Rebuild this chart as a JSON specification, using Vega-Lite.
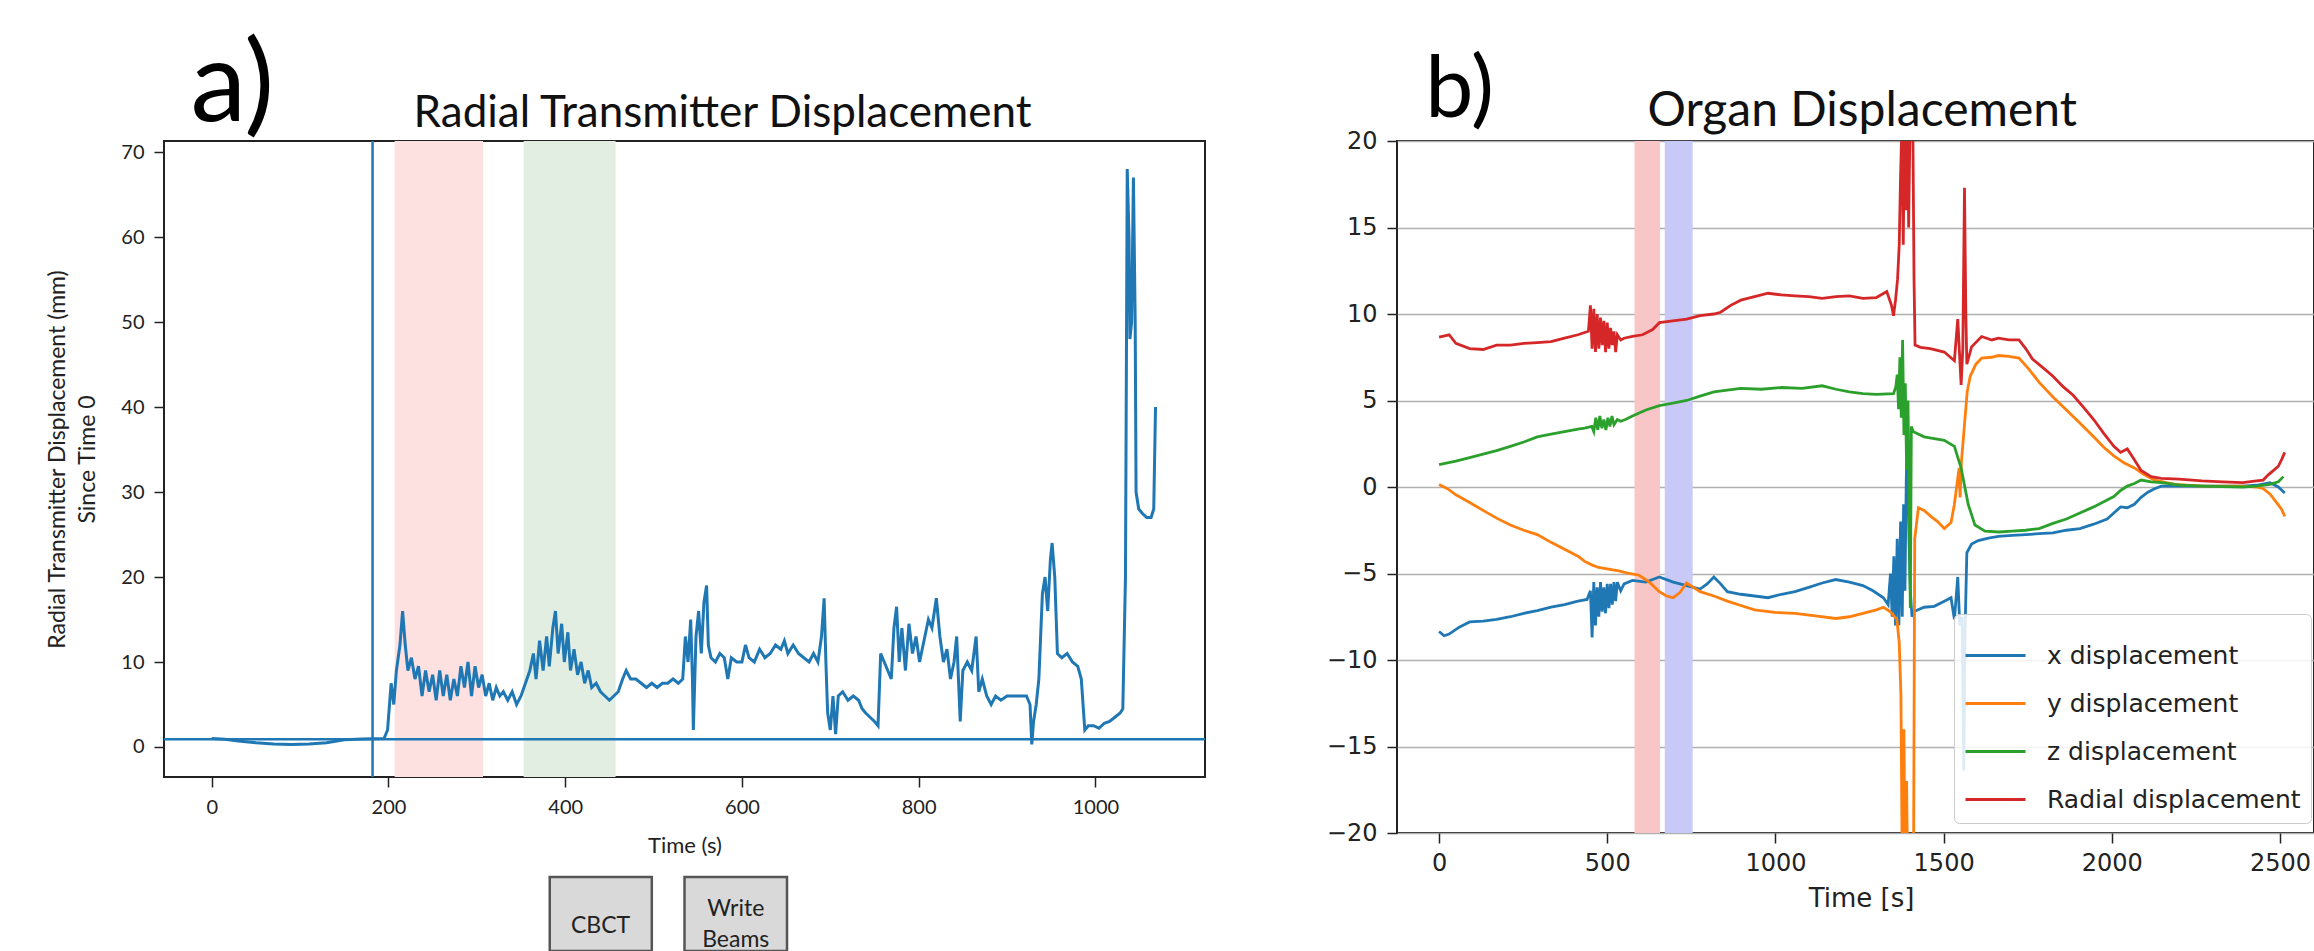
{
  "$schema": "https://vega.github.io/schema/vega-lite/v6.json",
  "background": "white",
  "padding": {"left": 45, "top": 30, "right": 0, "bottom": 0},
  "bounds": "flush",
  "spacing": 192,
  "resolve": {"scale": {"fill": "independent", "color": "independent"}},
  "config": {
    "view": {"stroke": "#222", "strokeWidth": 2},
    "axis": {"domain": false, "grid": false, "tickColor": "#222", "tickWidth": 1.5, "tickSize": 10, "labelColor": "#222", "titleColor": "#222", "titleFontWeight": "normal"}
  },
  "datasets": {
    "tx_spans": [
      {"start": 207, "end": 307, "phase": "CBCT"},
      {"start": 353, "end": 457, "phase": "Write Beams"}
    ],
    "tx_events": [{"t": 182}],
    "tx_baseline": [{"v": 0.9}],
    "steps": [
      {"step": "CBCT", "t0": 382.5, "t1": 498, "tm": 440, "label": ["CBCT"]},
      {"step": "Write Beams", "t0": 535, "t1": 651, "tm": 593, "label": ["Write", "Beams"]}
    ],
    "tx": [
      {"t":0,"v":1.0},{"t":15,"v":0.9},{"t":30,"v":0.7},{"t":50,"v":0.5},{"t":70,"v":0.35},{"t":90,"v":0.3},{"t":110,"v":0.35},{"t":130,"v":0.5},{"t":150,"v":0.85},{"t":170,"v":0.95},{"t":195,"v":1.0},
      {"t":199,"v":2.0},{"t":203,"v":7.5},{"t":206,"v":5.0},{"t":209,"v":9.0},{"t":213,"v":12},{"t":216,"v":16},{"t":219,"v":12},{"t":222,"v":9},{"t":226,"v":10.5},{"t":230,"v":8},
      {"t":234,"v":9.5},{"t":238,"v":6},{"t":242,"v":9},{"t":246,"v":6.5},{"t":250,"v":8.5},{"t":254,"v":5.5},{"t":258,"v":9},{"t":262,"v":6},{"t":266,"v":8.5},{"t":270,"v":5.5},
      {"t":274,"v":8},{"t":278,"v":6},{"t":282,"v":9.5},{"t":286,"v":7},{"t":290,"v":10},{"t":294,"v":6},{"t":298,"v":9.5},{"t":302,"v":7},{"t":306,"v":8.5},{"t":310,"v":6},
      {"t":314,"v":7.5},{"t":318,"v":5.5},{"t":322,"v":7},{"t":326,"v":6},{"t":330,"v":6.5},{"t":335,"v":5.5},{"t":340,"v":6.5},{"t":345,"v":5},{"t":350,"v":6},{"t":355,"v":7.5},
      {"t":360,"v":9},{"t":364,"v":11},{"t":367,"v":8},{"t":371,"v":12.5},{"t":375,"v":9},{"t":379,"v":13},{"t":382,"v":9.5},{"t":386,"v":14},{"t":389,"v":16},{"t":392,"v":11},
      {"t":396,"v":14.5},{"t":399,"v":10},{"t":403,"v":13.5},{"t":406,"v":9},{"t":410,"v":11.5},{"t":414,"v":8.5},{"t":418,"v":10},{"t":422,"v":7.5},{"t":426,"v":9},{"t":430,"v":7},
      {"t":435,"v":7.5},{"t":440,"v":6.5},{"t":445,"v":6},{"t":450,"v":5.5},{"t":455,"v":6},{"t":460,"v":6.5},{"t":465,"v":8},{"t":469,"v":9},{"t":474,"v":8},{"t":480,"v":8},
      {"t":486,"v":7.5},{"t":492,"v":7},{"t":498,"v":7.5},{"t":504,"v":7},{"t":510,"v":7.5},{"t":516,"v":7.5},{"t":522,"v":8},{"t":528,"v":7.5},{"t":533,"v":8},{"t":536,"v":13},
      {"t":539,"v":10},{"t":542,"v":15},{"t":544,"v":8},{"t":545,"v":2},{"t":548,"v":13},{"t":551,"v":16},{"t":554,"v":11},{"t":557,"v":17},{"t":560,"v":19},{"t":562,"v":12},
      {"t":565,"v":10.5},{"t":570,"v":10},{"t":575,"v":11},{"t":580,"v":10.5},{"t":584,"v":8},{"t":588,"v":10.5},{"t":594,"v":10},{"t":600,"v":10},{"t":604,"v":12},{"t":608,"v":10.5},
      {"t":614,"v":10},{"t":620,"v":11.5},{"t":626,"v":10.5},{"t":632,"v":11},{"t":638,"v":12},{"t":644,"v":11.5},{"t":648,"v":12.5},{"t":652,"v":11},{"t":658,"v":12},{"t":664,"v":11},
      {"t":670,"v":10.5},{"t":676,"v":10},{"t":681,"v":11},{"t":686,"v":10},{"t":690,"v":13},{"t":693,"v":17.5},{"t":695,"v":10},{"t":697,"v":4},{"t":700,"v":2},{"t":703,"v":6},
      {"t":706,"v":1.5},{"t":709,"v":6},{"t":714,"v":6.5},{"t":720,"v":5.5},{"t":726,"v":6},{"t":732,"v":5.5},{"t":736,"v":4.5},{"t":740,"v":4},{"t":745,"v":3.5},{"t":750,"v":3},
      {"t":754,"v":2.5},{"t":757,"v":11},{"t":761,"v":10},{"t":765,"v":9},{"t":769,"v":8},{"t":772,"v":14},{"t":775,"v":16.5},{"t":778,"v":10},{"t":781,"v":14},{"t":785,"v":9},
      {"t":789,"v":14.5},{"t":793,"v":11},{"t":797,"v":13},{"t":801,"v":10},{"t":806,"v":12.5},{"t":811,"v":15},{"t":815,"v":14},{"t":820,"v":17.5},{"t":824,"v":13},{"t":828,"v":10},
      {"t":832,"v":11.5},{"t":836,"v":8},{"t":840,"v":10},{"t":843,"v":13},{"t":845,"v":8},{"t":847,"v":3},{"t":850,"v":9},{"t":855,"v":10},{"t":860,"v":9},{"t":865,"v":13},
      {"t":868,"v":6.5},{"t":872,"v":8},{"t":877,"v":6},{"t":882,"v":5},{"t":887,"v":6},{"t":893,"v":5.5},{"t":900,"v":6},{"t":908,"v":6},{"t":915,"v":6},{"t":922,"v":6},
      {"t":926,"v":5},{"t":928,"v":0.3},{"t":930,"v":3},{"t":933,"v":5},{"t":936,"v":8},{"t":940,"v":18},{"t":943,"v":20},{"t":946,"v":16},{"t":949,"v":22},{"t":951,"v":24},
      {"t":954,"v":20},{"t":957,"v":11},{"t":962,"v":10.5},{"t":968,"v":11},{"t":974,"v":10},{"t":980,"v":9.5},{"t":984,"v":8},{"t":988,"v":2},{"t":992,"v":2.5},{"t":998,"v":2.5},
      {"t":1004,"v":2.2},{"t":1010,"v":2.8},{"t":1016,"v":3},{"t":1022,"v":3.5},{"t":1028,"v":4},{"t":1031,"v":4.5},{"t":1034,"v":20},{"t":1036,"v":68},{"t":1038,"v":60},{"t":1039,"v":48},
      {"t":1041,"v":50},{"t":1043,"v":67},{"t":1045,"v":50},{"t":1046,"v":30},{"t":1049,"v":28},{"t":1053,"v":27.5},{"t":1058,"v":27},{"t":1063,"v":27},{"t":1066,"v":28},{"t":1068,"v":40}
    ],
    "organ_spans": [
      {"start": 581, "end": 657, "phase": "CBCT"},
      {"start": 671, "end": 754, "phase": "Write Beams"}
    ],
    "organ": [
      {"s":"x displacement","t":0,"v":-8.35},{"s":"x displacement","t":15,"v":-8.6},{"s":"x displacement","t":30,"v":-8.5},{"s":"x displacement","t":60,"v":-8.1},{"s":"x displacement","t":91,"v":-7.8},{"s":"x displacement","t":131,"v":-7.75},{"s":"x displacement","t":171,"v":-7.65},{"s":"x displacement","t":212,"v":-7.5},{"s":"x displacement","t":252,"v":-7.3},{"s":"x displacement","t":292,"v":-7.15},
      {"s":"x displacement","t":333,"v":-6.95},{"s":"x displacement","t":373,"v":-6.8},{"s":"x displacement","t":413,"v":-6.6},{"s":"x displacement","t":440,"v":-6.5},{"s":"x displacement","t":450,"v":-6.0},{"s":"x displacement","t":455,"v":-8.7},{"s":"x displacement","t":460,"v":-5.5},{"s":"x displacement","t":465,"v":-8.0},{"s":"x displacement","t":470,"v":-5.8},{"s":"x displacement","t":475,"v":-7.5},
      {"s":"x displacement","t":480,"v":-5.5},{"s":"x displacement","t":485,"v":-7.2},{"s":"x displacement","t":490,"v":-5.8},{"s":"x displacement","t":495,"v":-7.3},{"s":"x displacement","t":500,"v":-5.6},{"s":"x displacement","t":505,"v":-7.0},{"s":"x displacement","t":510,"v":-5.6},{"s":"x displacement","t":515,"v":-6.8},{"s":"x displacement","t":520,"v":-5.5},{"s":"x displacement","t":525,"v":-6.6},
      {"s":"x displacement","t":530,"v":-5.5},{"s":"x displacement","t":540,"v":-6.0},{"s":"x displacement","t":550,"v":-5.6},{"s":"x displacement","t":575,"v":-5.4},{"s":"x displacement","t":615,"v":-5.5},{"s":"x displacement","t":655,"v":-5.2},{"s":"x displacement","t":696,"v":-5.5},{"s":"x displacement","t":736,"v":-5.7},{"s":"x displacement","t":756,"v":-5.8},{"s":"x displacement","t":776,"v":-5.9},
      {"s":"x displacement","t":797,"v":-5.6},{"s":"x displacement","t":817,"v":-5.2},{"s":"x displacement","t":837,"v":-5.6},{"s":"x displacement","t":857,"v":-6.05},{"s":"x displacement","t":897,"v":-6.2},{"s":"x displacement","t":938,"v":-6.3},{"s":"x displacement","t":978,"v":-6.4},{"s":"x displacement","t":1018,"v":-6.2},{"s":"x displacement","t":1058,"v":-6.05},{"s":"x displacement","t":1099,"v":-5.8},
      {"s":"x displacement","t":1139,"v":-5.55},{"s":"x displacement","t":1179,"v":-5.35},{"s":"x displacement","t":1220,"v":-5.5},{"s":"x displacement","t":1260,"v":-5.7},{"s":"x displacement","t":1290,"v":-6.0},{"s":"x displacement","t":1321,"v":-6.4},{"s":"x displacement","t":1335,"v":-6.8},{"s":"x displacement","t":1342,"v":-5},{"s":"x displacement","t":1347,"v":-7.5},{"s":"x displacement","t":1352,"v":-4},
      {"s":"x displacement","t":1357,"v":-8},{"s":"x displacement","t":1362,"v":-3},{"s":"x displacement","t":1367,"v":-8},{"s":"x displacement","t":1372,"v":-2},{"s":"x displacement","t":1377,"v":-7.5},{"s":"x displacement","t":1381,"v":-1},{"s":"x displacement","t":1385,"v":-6},{"s":"x displacement","t":1389,"v":0.5},{"s":"x displacement","t":1393,"v":3.5},{"s":"x displacement","t":1397,"v":-3},
      {"s":"x displacement","t":1401,"v":-6},{"s":"x displacement","t":1406,"v":-7.5},{"s":"x displacement","t":1412,"v":-7.2},{"s":"x displacement","t":1442,"v":-6.95},{"s":"x displacement","t":1472,"v":-6.9},{"s":"x displacement","t":1502,"v":-6.6},{"s":"x displacement","t":1522,"v":-6.4},{"s":"x displacement","t":1532,"v":-7.65},{"s":"x displacement","t":1542,"v":-5.2},{"s":"x displacement","t":1548,"v":-8.0},
      {"s":"x displacement","t":1555,"v":-7.5},{"s":"x displacement","t":1560,"v":-16.4},{"s":"x displacement","t":1564,"v":-8},{"s":"x displacement","t":1569,"v":-3.8},{"s":"x displacement","t":1583,"v":-3.3},{"s":"x displacement","t":1603,"v":-3.1},{"s":"x displacement","t":1633,"v":-2.95},{"s":"x displacement","t":1663,"v":-2.85},{"s":"x displacement","t":1704,"v":-2.8},{"s":"x displacement","t":1744,"v":-2.75},
      {"s":"x displacement","t":1784,"v":-2.7},{"s":"x displacement","t":1825,"v":-2.65},{"s":"x displacement","t":1865,"v":-2.5},{"s":"x displacement","t":1905,"v":-2.4},{"s":"x displacement","t":1946,"v":-2.15},{"s":"x displacement","t":1986,"v":-1.85},{"s":"x displacement","t":2006,"v":-1.5},{"s":"x displacement","t":2026,"v":-1.15},{"s":"x displacement","t":2046,"v":-1.2},{"s":"x displacement","t":2067,"v":-1.0},
      {"s":"x displacement","t":2087,"v":-0.6},{"s":"x displacement","t":2107,"v":-0.3},{"s":"x displacement","t":2127,"v":-0.1},{"s":"x displacement","t":2147,"v":0.05},{"s":"x displacement","t":2208,"v":0.05},{"s":"x displacement","t":2268,"v":0.05},{"s":"x displacement","t":2330,"v":0.05},{"s":"x displacement","t":2389,"v":0.05},{"s":"x displacement","t":2430,"v":0.1},{"s":"x displacement","t":2470,"v":0.25},
      {"s":"x displacement","t":2495,"v":0.0},{"s":"x displacement","t":2514,"v":-0.35},

      {"s":"y displacement","t":0,"v":0.15},{"s":"y displacement","t":25,"v":-0.1},{"s":"y displacement","t":50,"v":-0.45},{"s":"y displacement","t":91,"v":-0.9},{"s":"y displacement","t":131,"v":-1.35},{"s":"y displacement","t":171,"v":-1.8},{"s":"y displacement","t":212,"v":-2.2},{"s":"y displacement","t":252,"v":-2.5},{"s":"y displacement","t":292,"v":-2.75},{"s":"y displacement","t":333,"v":-3.2},
      {"s":"y displacement","t":373,"v":-3.6},{"s":"y displacement","t":413,"v":-4.0},{"s":"y displacement","t":433,"v":-4.3},{"s":"y displacement","t":454,"v":-4.5},{"s":"y displacement","t":474,"v":-4.65},{"s":"y displacement","t":504,"v":-4.75},{"s":"y displacement","t":534,"v":-4.85},{"s":"y displacement","t":565,"v":-5.0},{"s":"y displacement","t":595,"v":-5.1},{"s":"y displacement","t":625,"v":-5.5},
      {"s":"y displacement","t":655,"v":-6.05},{"s":"y displacement","t":676,"v":-6.3},{"s":"y displacement","t":696,"v":-6.4},{"s":"y displacement","t":716,"v":-6.1},{"s":"y displacement","t":736,"v":-5.55},{"s":"y displacement","t":756,"v":-5.8},{"s":"y displacement","t":776,"v":-6.05},{"s":"y displacement","t":817,"v":-6.3},{"s":"y displacement","t":857,"v":-6.6},{"s":"y displacement","t":897,"v":-6.85},
      {"s":"y displacement","t":938,"v":-7.1},{"s":"y displacement","t":998,"v":-7.25},{"s":"y displacement","t":1058,"v":-7.3},{"s":"y displacement","t":1119,"v":-7.45},{"s":"y displacement","t":1179,"v":-7.6},{"s":"y displacement","t":1220,"v":-7.5},{"s":"y displacement","t":1260,"v":-7.3},{"s":"y displacement","t":1300,"v":-7.1},{"s":"y displacement","t":1321,"v":-6.95},{"s":"y displacement","t":1341,"v":-7.2},
      {"s":"y displacement","t":1361,"v":-7.65},{"s":"y displacement","t":1368,"v":-9},{"s":"y displacement","t":1373,"v":-12},{"s":"y displacement","t":1377,"v":-22},{"s":"y displacement","t":1382,"v":-14},{"s":"y displacement","t":1386,"v":-24},{"s":"y displacement","t":1390,"v":-17},{"s":"y displacement","t":1394,"v":-25},{"s":"y displacement","t":1400,"v":-25},{"s":"y displacement","t":1406,"v":-22},
      {"s":"y displacement","t":1410,"v":-25},{"s":"y displacement","t":1414,"v":-3},{"s":"y displacement","t":1425,"v":-1.2},{"s":"y displacement","t":1442,"v":-1.35},{"s":"y displacement","t":1462,"v":-1.7},{"s":"y displacement","t":1482,"v":-2.0},{"s":"y displacement","t":1502,"v":-2.4},{"s":"y displacement","t":1522,"v":-2.05},{"s":"y displacement","t":1532,"v":-1.0},{"s":"y displacement","t":1540,"v":0.2},
      {"s":"y displacement","t":1546,"v":1.1},{"s":"y displacement","t":1549,"v":-0.6},{"s":"y displacement","t":1553,"v":1.5},{"s":"y displacement","t":1562,"v":3.6},{"s":"y displacement","t":1570,"v":5.5},{"s":"y displacement","t":1579,"v":6.4},{"s":"y displacement","t":1596,"v":7.1},{"s":"y displacement","t":1613,"v":7.45},{"s":"y displacement","t":1643,"v":7.5},{"s":"y displacement","t":1663,"v":7.6},
      {"s":"y displacement","t":1694,"v":7.55},{"s":"y displacement","t":1724,"v":7.45},{"s":"y displacement","t":1754,"v":6.8},{"s":"y displacement","t":1784,"v":6.05},{"s":"y displacement","t":1825,"v":5.2},{"s":"y displacement","t":1865,"v":4.45},{"s":"y displacement","t":1905,"v":3.7},{"s":"y displacement","t":1946,"v":2.9},{"s":"y displacement","t":1976,"v":2.3},{"s":"y displacement","t":2006,"v":1.8},
      {"s":"y displacement","t":2036,"v":1.4},{"s":"y displacement","t":2067,"v":1.1},{"s":"y displacement","t":2097,"v":0.7},{"s":"y displacement","t":2127,"v":0.4},{"s":"y displacement","t":2187,"v":0.15},{"s":"y displacement","t":2268,"v":0.05},{"s":"y displacement","t":2330,"v":0.05},{"s":"y displacement","t":2389,"v":0.05},{"s":"y displacement","t":2430,"v":0.0},{"s":"y displacement","t":2450,"v":-0.1},
      {"s":"y displacement","t":2470,"v":-0.4},{"s":"y displacement","t":2490,"v":-0.9},{"s":"y displacement","t":2505,"v":-1.3},{"s":"y displacement","t":2514,"v":-1.7},

      {"s":"z displacement","t":0,"v":1.3},{"s":"z displacement","t":50,"v":1.5},{"s":"z displacement","t":91,"v":1.7},{"s":"z displacement","t":131,"v":1.9},{"s":"z displacement","t":171,"v":2.1},{"s":"z displacement","t":212,"v":2.35},{"s":"z displacement","t":252,"v":2.6},{"s":"z displacement","t":292,"v":2.9},{"s":"z displacement","t":333,"v":3.05},{"s":"z displacement","t":373,"v":3.2},
      {"s":"z displacement","t":413,"v":3.35},{"s":"z displacement","t":433,"v":3.4},{"s":"z displacement","t":454,"v":3.5},{"s":"z displacement","t":460,"v":3.2},{"s":"z displacement","t":466,"v":4.0},{"s":"z displacement","t":472,"v":3.3},{"s":"z displacement","t":478,"v":4.1},{"s":"z displacement","t":484,"v":3.4},{"s":"z displacement","t":490,"v":3.9},{"s":"z displacement","t":496,"v":3.3},
      {"s":"z displacement","t":502,"v":4.0},{"s":"z displacement","t":508,"v":3.5},{"s":"z displacement","t":514,"v":4.1},{"s":"z displacement","t":520,"v":3.6},{"s":"z displacement","t":530,"v":3.9},{"s":"z displacement","t":540,"v":3.8},{"s":"z displacement","t":554,"v":3.9},{"s":"z displacement","t":575,"v":4.1},{"s":"z displacement","t":615,"v":4.45},{"s":"z displacement","t":655,"v":4.7},
      {"s":"z displacement","t":695,"v":4.85},{"s":"z displacement","t":736,"v":5.0},{"s":"z displacement","t":776,"v":5.25},{"s":"z displacement","t":817,"v":5.5},{"s":"z displacement","t":857,"v":5.6},{"s":"z displacement","t":897,"v":5.7},{"s":"z displacement","t":958,"v":5.65},{"s":"z displacement","t":1018,"v":5.75},{"s":"z displacement","t":1079,"v":5.7},{"s":"z displacement","t":1139,"v":5.85},
      {"s":"z displacement","t":1180,"v":5.65},{"s":"z displacement","t":1220,"v":5.5},{"s":"z displacement","t":1260,"v":5.4},{"s":"z displacement","t":1300,"v":5.35},{"s":"z displacement","t":1351,"v":5.4},{"s":"z displacement","t":1358,"v":5.8},{"s":"z displacement","t":1362,"v":6.5},{"s":"z displacement","t":1366,"v":4.5},{"s":"z displacement","t":1370,"v":7.5},{"s":"z displacement","t":1374,"v":4},
      {"s":"z displacement","t":1378,"v":8.5},{"s":"z displacement","t":1382,"v":3},{"s":"z displacement","t":1386,"v":6},{"s":"z displacement","t":1390,"v":1},{"s":"z displacement","t":1394,"v":5},{"s":"z displacement","t":1398,"v":-2},{"s":"z displacement","t":1401,"v":-7},{"s":"z displacement","t":1404,"v":3.5},{"s":"z displacement","t":1410,"v":3.2},{"s":"z displacement","t":1442,"v":2.9},
      {"s":"z displacement","t":1472,"v":2.8},{"s":"z displacement","t":1502,"v":2.7},{"s":"z displacement","t":1532,"v":2.35},{"s":"z displacement","t":1552,"v":1.1},{"s":"z displacement","t":1563,"v":0},{"s":"z displacement","t":1573,"v":-1.0},{"s":"z displacement","t":1593,"v":-2.2},{"s":"z displacement","t":1623,"v":-2.55},{"s":"z displacement","t":1664,"v":-2.6},{"s":"z displacement","t":1704,"v":-2.55},
      {"s":"z displacement","t":1744,"v":-2.5},{"s":"z displacement","t":1784,"v":-2.4},{"s":"z displacement","t":1825,"v":-2.1},{"s":"z displacement","t":1865,"v":-1.85},{"s":"z displacement","t":1905,"v":-1.5},{"s":"z displacement","t":1946,"v":-1.15},{"s":"z displacement","t":1976,"v":-0.85},{"s":"z displacement","t":2006,"v":-0.55},{"s":"z displacement","t":2026,"v":-0.2},{"s":"z displacement","t":2046,"v":0.05},
      {"s":"z displacement","t":2067,"v":0.2},{"s":"z displacement","t":2087,"v":0.4},{"s":"z displacement","t":2117,"v":0.3},{"s":"z displacement","t":2147,"v":0.25},{"s":"z displacement","t":2208,"v":0.1},{"s":"z displacement","t":2268,"v":0.05},{"s":"z displacement","t":2330,"v":0.02},{"s":"z displacement","t":2389,"v":0.0},{"s":"z displacement","t":2430,"v":0.05},{"s":"z displacement","t":2470,"v":0.15},
      {"s":"z displacement","t":2495,"v":0.3},{"s":"z displacement","t":2510,"v":0.6},

      {"s":"Radial displacement","t":0,"v":8.67},{"s":"Radial displacement","t":30,"v":8.8},{"s":"Radial displacement","t":50,"v":8.3},{"s":"Radial displacement","t":91,"v":8.0},{"s":"Radial displacement","t":131,"v":7.95},{"s":"Radial displacement","t":171,"v":8.2},{"s":"Radial displacement","t":212,"v":8.2},{"s":"Radial displacement","t":252,"v":8.3},{"s":"Radial displacement","t":292,"v":8.35},{"s":"Radial displacement","t":333,"v":8.4},
      {"s":"Radial displacement","t":373,"v":8.6},{"s":"Radial displacement","t":413,"v":8.8},{"s":"Radial displacement","t":444,"v":9.0},{"s":"Radial displacement","t":450,"v":10.5},{"s":"Radial displacement","t":455,"v":8.0},{"s":"Radial displacement","t":460,"v":10.3},{"s":"Radial displacement","t":465,"v":7.8},{"s":"Radial displacement","t":470,"v":10.0},{"s":"Radial displacement","t":475,"v":8.0},{"s":"Radial displacement","t":480,"v":9.8},
      {"s":"Radial displacement","t":485,"v":8.2},{"s":"Radial displacement","t":490,"v":9.6},{"s":"Radial displacement","t":495,"v":7.8},{"s":"Radial displacement","t":500,"v":9.5},{"s":"Radial displacement","t":505,"v":8.0},{"s":"Radial displacement","t":510,"v":9.2},{"s":"Radial displacement","t":515,"v":8.2},{"s":"Radial displacement","t":520,"v":9.0},{"s":"Radial displacement","t":525,"v":7.8},{"s":"Radial displacement","t":530,"v":8.8},
      {"s":"Radial displacement","t":540,"v":8.5},{"s":"Radial displacement","t":550,"v":8.6},{"s":"Radial displacement","t":575,"v":8.7},{"s":"Radial displacement","t":605,"v":8.8},{"s":"Radial displacement","t":635,"v":9.1},{"s":"Radial displacement","t":655,"v":9.5},{"s":"Radial displacement","t":695,"v":9.6},{"s":"Radial displacement","t":736,"v":9.7},{"s":"Radial displacement","t":776,"v":9.9},{"s":"Radial displacement","t":817,"v":10.0},
      {"s":"Radial displacement","t":837,"v":10.1},{"s":"Radial displacement","t":867,"v":10.5},{"s":"Radial displacement","t":897,"v":10.8},{"s":"Radial displacement","t":938,"v":11.0},{"s":"Radial displacement","t":978,"v":11.2},{"s":"Radial displacement","t":1018,"v":11.1},{"s":"Radial displacement","t":1058,"v":11.05},{"s":"Radial displacement","t":1099,"v":11.0},{"s":"Radial displacement","t":1139,"v":10.9},{"s":"Radial displacement","t":1180,"v":11.0},
      {"s":"Radial displacement","t":1220,"v":11.05},{"s":"Radial displacement","t":1260,"v":10.9},{"s":"Radial displacement","t":1300,"v":10.95},{"s":"Radial displacement","t":1331,"v":11.3},{"s":"Radial displacement","t":1345,"v":10.5},{"s":"Radial displacement","t":1351,"v":9.9},{"s":"Radial displacement","t":1357,"v":10.8},{"s":"Radial displacement","t":1363,"v":12},{"s":"Radial displacement","t":1368,"v":14},{"s":"Radial displacement","t":1372,"v":18},
      {"s":"Radial displacement","t":1376,"v":21},{"s":"Radial displacement","t":1380,"v":14},{"s":"Radial displacement","t":1384,"v":22},{"s":"Radial displacement","t":1388,"v":16},{"s":"Radial displacement","t":1392,"v":23},{"s":"Radial displacement","t":1396,"v":15},{"s":"Radial displacement","t":1400,"v":21},{"s":"Radial displacement","t":1404,"v":24},{"s":"Radial displacement","t":1408,"v":22},{"s":"Radial displacement","t":1412,"v":12},
      {"s":"Radial displacement","t":1415,"v":8.2},{"s":"Radial displacement","t":1431,"v":8.07},{"s":"Radial displacement","t":1460,"v":8.0},{"s":"Radial displacement","t":1502,"v":7.8},{"s":"Radial displacement","t":1532,"v":7.3},{"s":"Radial displacement","t":1542,"v":9.7},{"s":"Radial displacement","t":1552,"v":5.9},{"s":"Radial displacement","t":1557,"v":8},{"s":"Radial displacement","t":1562,"v":17.3},{"s":"Radial displacement","t":1566,"v":10},
      {"s":"Radial displacement","t":1569,"v":7.1},{"s":"Radial displacement","t":1583,"v":8.1},{"s":"Radial displacement","t":1613,"v":8.7},{"s":"Radial displacement","t":1643,"v":8.5},{"s":"Radial displacement","t":1663,"v":8.6},{"s":"Radial displacement","t":1694,"v":8.5},{"s":"Radial displacement","t":1724,"v":8.5},{"s":"Radial displacement","t":1744,"v":8.0},{"s":"Radial displacement","t":1764,"v":7.4},{"s":"Radial displacement","t":1795,"v":6.9},
      {"s":"Radial displacement","t":1825,"v":6.4},{"s":"Radial displacement","t":1855,"v":5.8},{"s":"Radial displacement","t":1885,"v":5.3},{"s":"Radial displacement","t":1916,"v":4.6},{"s":"Radial displacement","t":1946,"v":3.9},{"s":"Radial displacement","t":1976,"v":3.1},{"s":"Radial displacement","t":2006,"v":2.35},{"s":"Radial displacement","t":2026,"v":2.0},{"s":"Radial displacement","t":2046,"v":2.2},{"s":"Radial displacement","t":2066,"v":1.6},
      {"s":"Radial displacement","t":2087,"v":0.95},{"s":"Radial displacement","t":2117,"v":0.6},{"s":"Radial displacement","t":2147,"v":0.5},{"s":"Radial displacement","t":2200,"v":0.45},{"s":"Radial displacement","t":2268,"v":0.35},{"s":"Radial displacement","t":2330,"v":0.3},{"s":"Radial displacement","t":2389,"v":0.25},{"s":"Radial displacement","t":2430,"v":0.35},{"s":"Radial displacement","t":2450,"v":0.4},{"s":"Radial displacement","t":2465,"v":0.7},
      {"s":"Radial displacement","t":2480,"v":0.95},{"s":"Radial displacement","t":2495,"v":1.2},{"s":"Radial displacement","t":2505,"v":1.6},{"s":"Radial displacement","t":2514,"v":2.0}
    ]
  },
  "hconcat": [
    {
      "width": 1041,
      "height": 636,
      "layer": [
        {
          "data": {"name": "tx_spans"},
          "mark": {"type": "rect"},
          "encoding": {
            "x": {"field": "start", "type": "quantitative", "scale": {"domain": [-54, 1124], "nice": false, "zero": false},
                  "axis": {"values": [0, 200, 400, 600, 800, 1000], "format": "d", "title": "Time (s)", "labelFont": "Lato", "labelFontSize": 20, "labelPadding": 10, "titleFont": "Lato", "titleFontSize": 22, "titlePadding": 18}},
            "x2": {"field": "end"},
            "fill": {"field": "phase", "type": "nominal", "scale": {"domain": ["CBCT", "Write Beams"], "range": ["#fde0e0", "#e1eee1"]}, "legend": null}
          }
        },
        {
          "data": {"name": "tx"},
          "mark": {"type": "line", "color": "#1f77b4", "strokeWidth": 3},
          "encoding": {
            "x": {"field": "t", "type": "quantitative", "scale": {"domain": [-54, 1124], "nice": false, "zero": false}},
            "y": {"field": "v", "type": "quantitative", "scale": {"domain": [-3.53, 71.3], "nice": false, "zero": false},
                  "axis": {"values": [0, 10, 20, 30, 40, 50, 60, 70], "title": ["Radial Transmitter Displacement (mm)", "Since Time 0"], "labelFont": "Lato", "labelFontSize": 20, "labelPadding": 10, "titleFont": "Lato", "titleFontSize": 23, "titleLineHeight": 30, "titlePadding": 21}}
          }
        },
        {
          "data": {"name": "tx_events"},
          "mark": {"type": "rule", "color": "#1f77b4", "strokeWidth": 2.5},
          "encoding": {"x": {"field": "t", "type": "quantitative"}}
        },
        {
          "data": {"name": "tx_baseline"},
          "mark": {"type": "rule", "color": "#1f77b4", "strokeWidth": 2.5},
          "encoding": {"y": {"field": "v", "type": "quantitative"}}
        },
        {
          "data": {"name": "steps"},
          "mark": {"type": "rect", "fill": "#d9d9d9", "stroke": "#555", "strokeWidth": 2.5, "clip": false},
          "encoding": {
            "x": {"field": "t0", "type": "quantitative"},
            "x2": {"field": "t1"},
            "y": {"datum": -15.3},
            "y2": {"datum": -24.0}
          }
        },
        {
          "data": {"name": "steps"},
          "transform": [{"filter": "datum.step === 'CBCT'"}],
          "mark": {"type": "text", "font": "Lato", "fontSize": 23, "color": "#222", "align": "center", "baseline": "middle"},
          "encoding": {
            "x": {"field": "tm", "type": "quantitative"},
            "y": {"datum": -21.06},
            "text": {"field": "label"}
          }
        },
        {
          "data": {"name": "steps"},
          "transform": [{"filter": "datum.step === 'Write Beams'"}],
          "mark": {"type": "text", "font": "Lato", "fontSize": 23, "color": "#222", "align": "center", "baseline": "middle", "lineHeight": 31},
          "encoding": {
            "x": {"field": "tm", "type": "quantitative"},
            "y": {"datum": -19.06},
            "text": {"field": "label"}
          }
        },
        {
          "data": {"values": [{"panel": "a)", "title": "Radial Transmitter Displacement"}]},
          "layer": [
            {
              "mark": {"type": "text", "font": "Lato", "fontSize": 112, "color": "#000", "align": "left", "baseline": "alphabetic"},
              "encoding": {"x": {"datum": -24}, "y": {"datum": 73.65}, "text": {"field": "panel"}}
            },
            {
              "mark": {"type": "text", "font": "Lato", "fontSize": 44, "color": "#111", "align": "center", "baseline": "alphabetic"},
              "encoding": {"x": {"datum": 578}, "y": {"datum": 72.94}, "text": {"field": "title"}}
            }
          ]
        }
      ]
    },
    {
      "width": 917,
      "height": 692,
      "layer": [
        {
          "data": {"name": "organ_spans"},
          "mark": {"type": "rect"},
          "encoding": {
            "x": {"field": "start", "type": "quantitative", "scale": {"domain": [-125, 2601], "nice": false, "zero": false},
                  "axis": {"values": [0, 500, 1000, 1500, 2000, 2500], "format": "d", "title": "Time [s]", "titleX": 464, "labelFont": "DejaVu Sans", "labelFontSize": 24, "labelPadding": 8, "titleFont": "DejaVu Sans", "titleFontSize": 26, "titlePadding": 10}},
            "x2": {"field": "end"},
            "fill": {"field": "phase", "type": "nominal", "scale": {"domain": ["CBCT", "Write Beams"], "range": ["#f8c6c6", "#c9c9f8"]}, "legend": null}
          }
        },
        {
          "data": {"name": "organ"},
          "mark": {"type": "line", "strokeWidth": 2.8, "clip": true},
          "encoding": {
            "x": {"field": "t", "type": "quantitative", "scale": {"domain": [-125, 2601], "nice": false, "zero": false}},
            "y": {"field": "v", "type": "quantitative", "scale": {"domain": [-20, 20], "nice": false, "zero": false},
                  "axis": {"values": [-20, -15, -10, -5, 0, 5, 10, 15, 20], "title": null, "grid": true, "gridColor": "#b0b0b0", "gridWidth": 1.5, "labelFont": "DejaVu Sans", "labelFontSize": 24, "labelPadding": 10}},
            "color": {"field": "s", "type": "nominal", "sort": ["x displacement", "y displacement", "z displacement", "Radial displacement"],
                      "scale": {"domain": ["x displacement", "y displacement", "z displacement", "Radial displacement"], "range": ["#1f77b4", "#ff7f0e", "#2ca02c", "#d62728"]},
                      "legend": {"title": null, "orient": "none", "legendX": 557, "legendY": 473, "symbolType": "stroke", "symbolSize": 3600, "symbolStrokeWidth": 3, "labelFont": "DejaVu Sans", "labelFontSize": 25, "labelLimit": 400, "labelColor": "#222", "labelOffset": 20, "rowPadding": 3, "padding": 10, "fillColor": "rgba(255,255,255,0.85)", "strokeColor": "#cccccc", "cornerRadius": 5}}
          }
        },
        {
          "data": {"values": [{"panel": "b)", "title": "Organ Displacement"}]},
          "layer": [
            {
              "mark": {"type": "text", "font": "Lato", "fontSize": 86, "color": "#000", "align": "left", "baseline": "alphabetic"},
              "encoding": {"x": {"datum": -40.7}, "y": {"datum": 21.37}, "text": {"field": "panel"}}
            },
            {
              "mark": {"type": "text", "font": "Lato", "fontSize": 48, "color": "#111", "align": "center", "baseline": "alphabetic"},
              "encoding": {"x": {"datum": 1258}, "y": {"datum": 20.85}, "text": {"field": "title"}}
            }
          ]
        }
      ]
    }
  ]
}
